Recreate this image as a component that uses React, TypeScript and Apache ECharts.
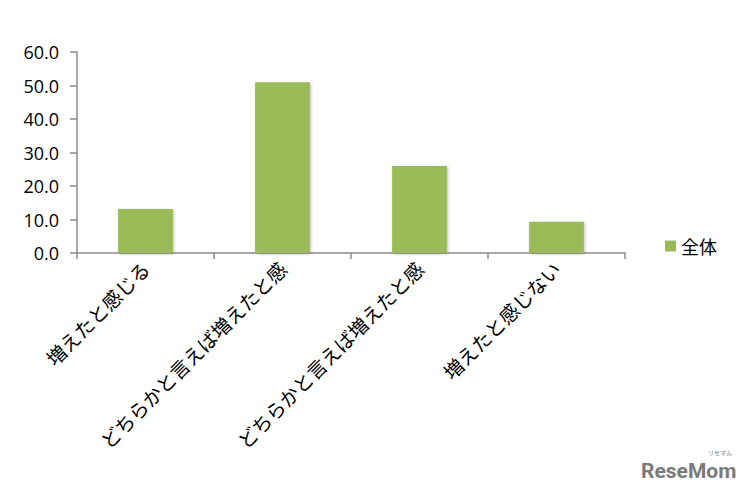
import React, { useEffect, useRef } from "react";
import * as echarts from "echarts";

const categories = [
  "増えたと感じる",
  "どちらかと言えば増えたと感",
  "どちらかと言えば増えたと感",
  "増えたと感じない",
];
const seriesName = "全体";
const values = [13.1, 51.0, 26.0, 9.3];
const yMin = 0;
const yMax = 60;
const yInterval = 10;

export default function App() {
  const ref = useRef<HTMLDivElement>(null);
  useEffect(() => {
    if (!ref.current) return;
    const chart = echarts.init(ref.current, undefined, { renderer: "svg" });
    const font = "'Noto Sans CJK JP', 'Noto Sans', sans-serif";
    chart.setOption({
      animation: false,
      backgroundColor: "#ffffff",
      grid: { left: 69, right: 126, top: 44, bottom: 247, containLabel: false },
      legend: {
        data: [seriesName],
        left: 657,
        top: 229,
        padding: 0,
        icon: "rect",
        itemWidth: 11,
        itemHeight: 11,
        itemGap: 6,
        textStyle: { fontSize: 18, color: "#000", fontFamily: font },
      },
      xAxis: {
        type: "category",
        data: categories,
        axisLine: { show: true, lineStyle: { color: "#8c8c8c", width: 1.5 } },
        axisTick: { show: true, length: 6, lineStyle: { color: "#8c8c8c", width: 1.5 } },
        axisLabel: {
          rotate: 45,
          interval: 0,
          margin: 12,
          fontSize: 19.5,
          color: "#000",
          fontFamily: font,
        },
      },
      yAxis: {
        type: "value",
        min: yMin,
        max: yMax,
        interval: yInterval,
        axisLine: { show: true, lineStyle: { color: "#8c8c8c", width: 1.5 } },
        axisTick: { show: true, length: 7, lineStyle: { color: "#8c8c8c", width: 1.5 } },
        splitLine: { show: false },
        axisLabel: {
          formatter: (v: number) => v.toFixed(1),
          fontSize: 18,
          color: "#000",
          margin: 18,
          fontFamily: "'Open Sans', 'Noto Sans', sans-serif",
        },
      },
      series: [
        {
          name: seriesName,
          type: "bar",
          data: values,
          barWidth: "40%",
          itemStyle: {
            color: "#9bbb59",
            shadowColor: "rgba(0,0,0,0.25)",
            shadowBlur: 3,
            shadowOffsetX: 1,
            shadowOffsetY: 1,
          },
        },
      ],
      graphic: [
        {
          type: "text",
          left: 633,
          top: 452,
          style: {
            text: "ReseMom",
            fontSize: 21,
            fontWeight: "bold",
            fill: "#7a7a7a",
            fontFamily: "Roboto, sans-serif",
          },
        },
        {
          type: "text",
          left: 700,
          top: 441,
          style: {
            text: "リセマム",
            fontSize: 6,
            fill: "#7a7a7a",
            fontFamily: font,
          },
        },
      ],
    });
    return () => chart.dispose();
  }, []);
  return <div ref={ref} style={{ width: 743, height: 492 }} />;
}
